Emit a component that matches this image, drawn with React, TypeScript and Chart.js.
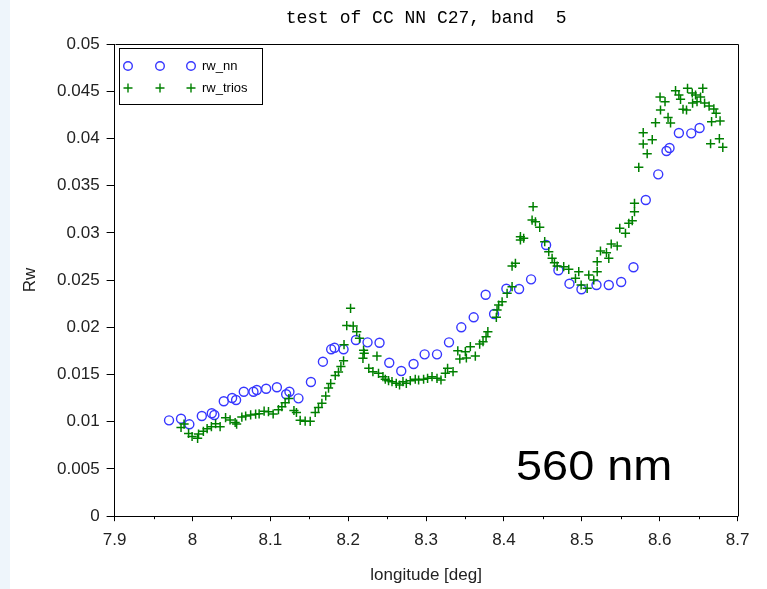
import React, { useEffect, useRef } from "react";
import { Chart, registerables } from "chart.js";

Chart.register(...registerables);

const chartTitle = "test of CC NN C27, band  5";
const xAxisTitle = "longitude [deg]";
const yAxisTitle = "Rw";
const bandLabel = "560 nm";
const seriesNames = ["rw_nn", "rw_trios"];

const xMin = 7.9;
const xMax = 8.7;
const xStep = 0.1;
const xMinorStep = 0.05;
const yMin = 0;
const yMax = 0.05;
const yStep = 0.005;

const rwNnLon = [
  7.9699, 7.9853, 7.996, 8.012, 8.0248, 8.0281, 8.0402, 8.0509, 8.056, 8.0659,
  8.0783, 8.0826, 8.0946, 8.1084, 8.1203, 8.1245, 8.1361, 8.1521, 8.1675, 8.1781,
  8.1824, 8.194, 8.2099, 8.2248, 8.2402, 8.2527, 8.2681, 8.2839, 8.2981, 8.314,
  8.3294, 8.3452, 8.3611, 8.3765, 8.3873, 8.4031, 8.4194, 8.4348, 8.4541, 8.4699,
  8.4841, 8.4995, 8.5188, 8.5346, 8.5505, 8.5663, 8.5821, 8.5981, 8.6087, 8.6126,
  8.6246, 8.6405, 8.6512,
];
const rwNnVal = [
  0.01015, 0.01032, 0.00973, 0.01061, 0.0109, 0.01072, 0.01217, 0.01252, 0.0123, 0.01318,
  0.01318, 0.01336, 0.0135, 0.01365, 0.01291, 0.01318, 0.01248, 0.01421, 0.01636, 0.01767,
  0.01784, 0.01767, 0.01866, 0.01841, 0.01837, 0.01625, 0.01537, 0.01612, 0.01714, 0.01714,
  0.01841, 0.02, 0.02106, 0.02345, 0.02141, 0.02409, 0.02406, 0.02508, 0.02872, 0.02604,
  0.02462, 0.02403, 0.02448, 0.02448, 0.0248, 0.02636, 0.03348, 0.0362, 0.03867, 0.03899,
  0.04058, 0.04054, 0.04111,
];

const rwTriosLon = [
  7.9853, 7.9892, 7.995, 7.9995, 8.0066, 8.0078, 8.014, 8.0188, 8.0243, 8.0297,
  8.0355, 8.0425, 8.0483, 8.0548, 8.0567, 8.0634, 8.0683, 8.0747, 8.0811, 8.0856,
  8.092, 8.0976, 8.1036, 8.1104, 8.1148, 8.119, 8.1238, 8.1303, 8.1335, 8.1383,
  8.1447, 8.1512, 8.1576, 8.1618, 8.1662, 8.1711, 8.1747, 8.1775, 8.1833, 8.1875,
  8.1906, 8.194, 8.1946, 8.1981, 8.203, 8.2064, 8.2109, 8.2145, 8.2197, 8.2205,
  8.2189, 8.2264, 8.2317, 8.2369, 8.2389, 8.2446, 8.2476, 8.2518, 8.2562, 8.2617,
  8.2659, 8.2703, 8.2746, 8.2797, 8.2861, 8.2904, 8.2968, 8.3019, 8.3076, 8.314,
  8.3191, 8.3247, 8.3276, 8.3346, 8.3407, 8.3433, 8.3504, 8.3517, 8.3568, 8.3632,
  8.3688, 8.3731, 8.377, 8.3793, 8.3902, 8.3911, 8.3932, 8.3976, 8.404, 8.4104,
  8.4104, 8.4147, 8.4211, 8.4211, 8.4253, 8.4361, 8.4374, 8.4404, 8.4459, 8.4523,
  8.4575, 8.4618, 8.4648, 8.4683, 8.4767, 8.4832, 8.4918, 8.496, 8.4991, 8.5068,
  8.5089, 8.5153, 8.5197, 8.5197, 8.5239, 8.5316, 8.5346, 8.5377, 8.5454, 8.5487,
  8.556, 8.5603, 8.5647, 8.5676, 8.5676, 8.5731, 8.5788, 8.5788, 8.5839, 8.5904,
  8.5946, 8.6004, 8.601, 8.6068, 8.6107, 8.6139, 8.6203, 8.6246, 8.6267, 8.6299,
  8.6344, 8.6357, 8.6418, 8.6422, 8.646, 8.6479, 8.6524, 8.6553, 8.6576, 8.6634,
  8.6666, 8.6695, 8.6724, 8.6775, 8.6653, 8.6766, 8.681,
];
const rwTriosVal = [
  0.00939, 0.00976, 0.00876, 0.00844, 0.00825, 0.0087, 0.00899, 0.00927, 0.00948, 0.00979,
  0.00948, 0.01043, 0.01019, 0.00992, 0.00976, 0.0105, 0.01061, 0.01072, 0.0108, 0.01084,
  0.01112, 0.01107, 0.01082, 0.01128, 0.01159, 0.01202, 0.01246, 0.01119, 0.01098, 0.01015,
  0.01006, 0.01005, 0.01098, 0.01151, 0.01195, 0.01273, 0.01357, 0.01405, 0.0149, 0.01527,
  0.01585, 0.01646, 0.01816, 0.02019, 0.02201, 0.02014, 0.01954, 0.01884, 0.01758, 0.01725,
  0.01672, 0.01566, 0.0153, 0.01696, 0.01513, 0.01477, 0.0145, 0.01435, 0.01424, 0.01407,
  0.01389, 0.01424, 0.01407, 0.01435, 0.0145, 0.01442, 0.0145, 0.0146, 0.01477, 0.0146,
  0.01442, 0.01513, 0.01566, 0.0153, 0.01751, 0.01665, 0.01742, 0.01675, 0.01795, 0.01696,
  0.01823, 0.01848, 0.01901, 0.01954, 0.02106, 0.02183, 0.02236, 0.02271, 0.0236, 0.0243,
  0.02649, 0.02678, 0.02925, 0.0296, 0.02943, 0.03136, 0.03277, 0.03118, 0.03059, 0.02907,
  0.02801, 0.02731, 0.02684, 0.02649, 0.02642, 0.02614, 0.02519, 0.02589, 0.02448, 0.02413,
  0.02554, 0.02501, 0.02589, 0.02695, 0.02808, 0.0279, 0.02731, 0.02882, 0.02861, 0.03049,
  0.02996, 0.03101, 0.03129, 0.03224, 0.03313, 0.03694, 0.03941, 0.04061, 0.03838, 0.03987,
  0.04167, 0.04439, 0.04301, 0.04389, 0.04222, 0.04164, 0.04506, 0.0446, 0.04414, 0.04309,
  0.04301, 0.04531, 0.04481, 0.04375, 0.0446, 0.04389, 0.04439, 0.04531, 0.04375, 0.04343,
  0.04177, 0.04312, 0.04266, 0.04185, 0.03944, 0.03997, 0.03906,
];

const W = 767;
const H = 589;
const BLUE = "rgb(55,55,255)";
const GREEN = "rgb(0,128,0)";
const SANS = '"Liberation Sans", Arial, sans-serif';

const fmt = (v: number) => String(Number(Number(v).toFixed(4)));

const decorPlugin = {
  id: "decor",
  beforeDraw(chart: any) {
    const ctx = chart.ctx;
    ctx.save();
    ctx.fillStyle = "#ffffff";
    ctx.fillRect(0, 0, W, H);
    ctx.fillStyle = "#eef5fb";
    ctx.fillRect(0, 0, 10, H);
    ctx.restore();
  },
  afterDraw(chart: any) {
    const ctx = chart.ctx;
    const a = chart.chartArea;
    const xs = chart.scales.x;
    ctx.save();
    // frame (top & right)
    ctx.strokeStyle = "#000";
    ctx.lineWidth = 1;
    ctx.beginPath();
    ctx.moveTo(Math.round(a.left) + 0.5, Math.round(a.top) + 0.5);
    ctx.lineTo(Math.round(a.right) + 0.5, Math.round(a.top) + 0.5);
    ctx.lineTo(Math.round(a.right) + 0.5, Math.round(a.bottom) + 0.5);
    ctx.stroke();
    // minor x ticks
    ctx.beginPath();
    for (let v = xMin + xMinorStep; v < xMax; v += xStep) {
      const px = Math.round(xs.getPixelForValue(v)) + 0.5;
      ctx.moveTo(px, a.bottom);
      ctx.lineTo(px, a.bottom + 3);
    }
    ctx.stroke();

    // title
    ctx.fillStyle = "#000";
    ctx.font = '18px "Liberation Mono", "DejaVu Sans Mono", monospace';
    ctx.textAlign = "center";
    ctx.textBaseline = "middle";
    ctx.fillText(chartTitle, (a.left + a.right) / 2, 18);

    // axis titles
    ctx.fillStyle = "#222";
    ctx.font = "17px " + SANS;
    ctx.fillText(xAxisTitle, (a.left + a.right) / 2, 575);
    ctx.save();
    ctx.translate(30, 280);
    ctx.rotate(-Math.PI / 2);
    ctx.fillText(yAxisTitle, 0, 0);
    ctx.restore();

    // band label
    ctx.save();
    ctx.fillStyle = "#000";
    ctx.font = "43px " + SANS;
    ctx.textAlign = "left";
    ctx.textBaseline = "alphabetic";
    ctx.translate(516, 480);
    ctx.scale(1.09, 1);
    ctx.fillText(bandLabel, 0, 0);
    ctx.restore();

    // legend
    const lx = 119, ly = 48, lw = 143, lh = 56;
    ctx.strokeStyle = "#000";
    ctx.lineWidth = 1;
    ctx.strokeRect(lx + 0.5, ly + 0.5, lw, lh);
    const mx = [128, 160, 191];
    const rows = [66, 88];
    ctx.lineWidth = 1.4;
    mx.forEach((x) => {
      ctx.strokeStyle = BLUE;
      ctx.beginPath();
      ctx.arc(x, rows[0], 4.3, 0, Math.PI * 2);
      ctx.stroke();
      ctx.strokeStyle = GREEN;
      ctx.beginPath();
      ctx.moveTo(x - 4.5, rows[1]);
      ctx.lineTo(x + 4.5, rows[1]);
      ctx.moveTo(x, rows[1] - 4.5);
      ctx.lineTo(x, rows[1] + 4.5);
      ctx.stroke();
    });
    ctx.fillStyle = "#000";
    ctx.font = "13px " + SANS;
    ctx.textAlign = "left";
    ctx.textBaseline = "middle";
    ctx.fillText(seriesNames[0], 202, rows[0]);
    ctx.fillText(seriesNames[1], 202, rows[1]);
    ctx.restore();
  },
};

export default function App() {
  const ref = useRef<HTMLCanvasElement | null>(null);
  useEffect(() => {
    if (!ref.current) return;
    const chart = new Chart(ref.current, {
      type: "scatter",
      data: {
        datasets: [
          {
            label: seriesNames[0],
            data: rwNnLon.map((x, i) => ({ x, y: rwNnVal[i] })),
            pointStyle: "circle",
            pointRadius: 4.5,
            borderColor: BLUE,
            backgroundColor: "rgba(0,0,0,0)",
            borderWidth: 1.4,
            order: 2,
          },
          {
            label: seriesNames[1],
            data: rwTriosLon.map((x, i) => ({ x, y: rwTriosVal[i] })),
            pointStyle: "cross",
            pointRadius: 4.6,
            borderColor: GREEN,
            backgroundColor: GREEN,
            borderWidth: 1.5,
            order: 1,
          },
        ],
      },
      options: {
        responsive: false,
        animation: false,
        events: [],
        layout: { padding: { top: 44, right: 29.4, left: 0, bottom: 0 } },
        plugins: {
          legend: { display: false },
          title: { display: false },
          tooltip: { enabled: false },
        },
        scales: {
          x: {
            type: "linear",
            min: xMin,
            max: xMax,
            afterFit: (s: any) => {
              s.height = H - 516.2;
            },
            ticks: {
              stepSize: xStep,
              callback: (v: any) => fmt(v),
              font: { family: SANS, size: 17 },
              color: "#222",
              padding: 9,
              maxRotation: 0,
            },
            grid: {
              drawOnChartArea: false,
              drawTicks: true,
              tickLength: 5,
              color: "#000",
            },
            border: { display: true, color: "#000", width: 1 },
          },
          y: {
            type: "linear",
            min: yMin,
            max: yMax,
            afterFit: (s: any) => {
              s.width = 114.6;
            },
            ticks: {
              stepSize: yStep,
              callback: (v: any) => fmt(v),
              font: { family: SANS, size: 17 },
              color: "#222",
              padding: 7,
            },
            grid: {
              drawOnChartArea: false,
              drawTicks: true,
              tickLength: 8,
              color: "#000",
            },
            border: { display: true, color: "#000", width: 1 },
          },
        },
      },
      plugins: [decorPlugin],
    });
    return () => chart.destroy();
  }, []);
  return (
    <div style={{ position: "fixed", left: 0, top: 0, width: W, height: H }}>
      <canvas ref={ref} width={W} height={H} style={{ width: W, height: H, display: "block" }} />
    </div>
  );
}
